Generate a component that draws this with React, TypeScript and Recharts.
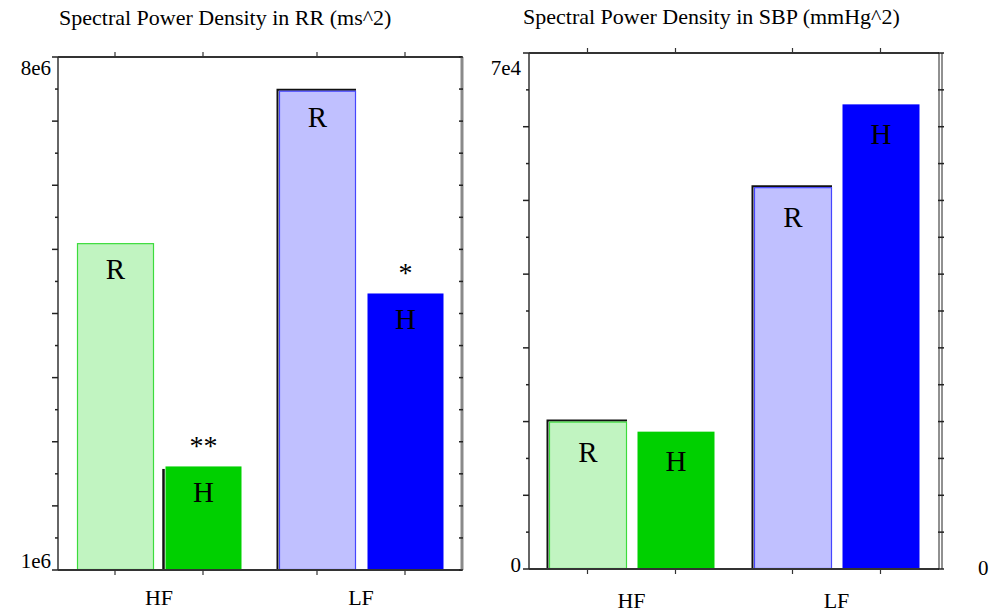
import React from "react";
import { BarChart, Bar, XAxis, YAxis, Cell, LabelList } from "recharts";

// ---- data ----
const bands = ["HF", "LF"];
const seriesLetters = ["R", "H"];

const rrRest = [5.46e6, 7.54e6];
const rrHandgrip = [2.42e6, 4.78e6];
const rrSignificance = ["**", "*"];

const sbpRest = [2.0e4, 5.18e4];
const sbpHandgrip = [1.87e4, 6.31e4];
const sbpSignificance = ["", ""];

const rrDomain = [1e6, 8e6];
const rrTickValues = [
  1e6, 1.4375e6, 1.875e6, 2.3125e6, 2.75e6, 3.1875e6, 3.625e6, 4.0625e6, 4.5e6,
  4.9375e6, 5.375e6, 5.8125e6, 6.25e6, 6.6875e6, 7.125e6, 7.5625e6, 8e6,
];
const rrTickLabels: Record<string, string> = { "1000000": "1e6", "8000000": "8e6" };

const sbpDomain = [0, 7e4];
const sbpTickValues = [
  0, 5000, 10000, 15000, 20000, 25000, 30000, 35000, 40000, 45000, 50000, 55000,
  60000, 65000, 70000,
];
const sbpTickLabels: Record<string, string> = { "0": "0", "70000": "7e4" };

const rrTitle = "Spectral Power Density in RR (ms^2)";
const sbpTitle = "Spectral Power Density in SBP (mmHg^2)";

// ---- styles ----
const serif = "'Liberation Serif', 'Times New Roman', serif";
const restFill = ["#c1f4c1", "#c0c0ff"];
const restStroke = ["#3cdc3c", "#4646ff"];
const handFill = ["#00d000", "#0000ff"];

const buildData = (rest: number[], hand: number[], sig: string[]) =>
  bands.map((b, i) => ({ band: b, rest: rest[i], handgrip: hand[i], sig: sig[i] }));

const rrData = buildData(rrRest, rrHandgrip, rrSignificance);
const sbpData = buildData(sbpRest, sbpHandgrip, sbpSignificance);

function BandTick(props: any) {
  const { x, y, payload, off, side, labelDy } = props;
  const dir = side === "bottom" ? 1 : -1;
  return (
    <g>
      <line x1={x - off} x2={x - off} y1={y} y2={y + 5 * dir} stroke="#333" strokeWidth={1.2} />
      <line x1={x + off} x2={x + off} y1={y} y2={y + 5 * dir} stroke="#333" strokeWidth={1.2} />
      {side === "bottom" && (
        <text x={x} y={y + labelDy} textAnchor="middle" fontSize={22} fontFamily={serif} fill="#000">
          {payload.value}
        </text>
      )}
    </g>
  );
}

function LeftTick(props: any) {
  const { x, y, payload, index, labels, topDy, bottomDy, gap } = props;
  const long = index % 2 === 0;
  const label = labels[String(payload.value)];
  const isBottom = index === 0;
  return (
    <g>
      <line x1={x - (long ? 6 : 3)} x2={x} y1={y} y2={y} stroke="#222" strokeWidth={1.5} />
      {label && (
        <text
          x={x - gap}
          y={y + (isBottom ? bottomDy : topDy)}
          textAnchor="end"
          fontSize={21}
          fontFamily={serif}
          fill="#000"
        >
          {label}
        </text>
      )}
    </g>
  );
}

function RightTick(props: any) {
  const { x, y, from, to } = props;
  return <line x1={x + from} x2={x + to} y1={y} y2={y} stroke="#222" strokeWidth={1.5} />;
}

// shadow modes: "" none, "l" left edge, "lt" left + top edge
function makeShape(shadows: string[]) {
  return (props: any) => {
    const { x, y, width, height, fill, stroke, index } = props;
    if (!width || height == null) return <g />;
    const sh = shadows[index];
    return (
      <g>
        {sh === "lt" && (
          <path
            d={`M${x - 1.5},${y + height} V${y - 1} H${x + width}`}
            stroke="#111"
            strokeWidth={2}
            fill="none"
          />
        )}
        {sh === "l" && (
          <path
            d={`M${x - 1.5},${y + height} V${y + 3}`}
            stroke="#111"
            strokeWidth={2.5}
            fill="none"
          />
        )}
        <rect
          x={x + 0.5}
          y={y + 0.5}
          width={Math.max(0, width - 1)}
          height={Math.max(0, height - 1)}
          fill={fill}
          stroke={stroke || "none"}
          strokeWidth={stroke ? 1.2 : 0}
        />
      </g>
    );
  };
}

function letterLabel(letter: string, dy: number) {
  return (p: any) => {
    const { x, y, width } = p;
    return (
      <text x={x + width / 2} y={y + dy} textAnchor="middle" fontSize={29} fontFamily={serif} fill="#000">
        {letter}
      </text>
    );
  };
}

function sigLabel(dy: number) {
  return (p: any) => {
    const { x, y, width, value } = p;
    if (!value) return <g />;
    return (
      <text x={x + width / 2} y={y + dy} textAnchor="middle" fontSize={28} fontFamily={serif} fill="#000">
        {value}
      </text>
    );
  };
}

type PanelProps = {
  data: any[];
  width: number;
  height: number;
  domain: number[];
  ticks: number[];
  labels: Record<string, string>;
  leftW: number;
  top: number;
  bottomH: number;
  rightKind: "gray" | "double";
  rightW: number;
  catGap: number;
  barGap: number;
  tickOff: number;
  bandLabelDy: number;
  letterDy: number;
  topDy: number;
  bottomDy: number;
  labelGap: number;
  restShadow: string[];
  handShadow: string[];
};

function Panel(p: PanelProps) {
  return (
    <BarChart
      width={p.width}
      height={p.height}
      data={p.data}
      margin={{ top: p.top - 1, right: 0, bottom: 0, left: 0 }}
      barCategoryGap={p.catGap}
      barGap={p.barGap}
    >
      <XAxis
        xAxisId="b"
        dataKey="band"
        height={p.bottomH}
        tickSize={0}
        tickMargin={0}
        tickLine={false}
        axisLine={{ stroke: "#333", strokeWidth: 2 }}
        tick={<BandTick off={p.tickOff} side="bottom" labelDy={p.bandLabelDy} />}
        interval={0}
      />
      <XAxis
        xAxisId="t"
        orientation="top"
        dataKey="band"
        height={1}
        tickSize={0}
        tickMargin={0}
        tickLine={false}
        axisLine={{ stroke: "#333", strokeWidth: 2 }}
        tick={<BandTick off={p.tickOff} side="top" labelDy={0} />}
        interval={0}
      />
      <YAxis
        yAxisId="l"
        width={p.leftW}
        domain={p.domain}
        ticks={p.ticks}
        type="number"
        allowDataOverflow
        interval={0}
        tickSize={0}
        tickMargin={0}
        tickLine={false}
        axisLine={{ stroke: "#333", strokeWidth: 1.5 }}
        tick={
          <LeftTick
            labels={p.labels}
            topDy={p.topDy}
            bottomDy={p.bottomDy}
            gap={p.labelGap}
          />
        }
      />
      {p.rightKind === "gray" ? (
        <YAxis
          yAxisId="r"
          orientation="right"
          width={p.rightW}
          domain={p.domain}
          ticks={p.ticks}
          type="number"
          allowDataOverflow
          interval={0}
          tickSize={0}
          tickMargin={0}
          tickLine={false}
          axisLine={{ stroke: "#8a8a8a", strokeWidth: 3 }}
          tick={<RightTick from={-3} to={1} />}
        />
      ) : null}
      {p.rightKind === "double" ? (
        <YAxis
          yAxisId="r"
          orientation="right"
          width={3}
          domain={p.domain}
          ticks={p.ticks}
          type="number"
          allowDataOverflow
          interval={0}
          tickSize={0}
          tickMargin={0}
          tickLine={false}
          axisLine={{ stroke: "#222", strokeWidth: 1 }}
          tick={<RightTick from={-1} to={5} />}
        />
      ) : null}
      {p.rightKind === "double" ? (
        <YAxis
          yAxisId="r2"
          orientation="right"
          width={p.rightW - 3}
          domain={p.domain}
          ticks={[]}
          type="number"
          allowDataOverflow
          tick={false}
          tickLine={false}
          axisLine={{ stroke: "#222", strokeWidth: 1 }}
        />
      ) : null}
      <Bar
        xAxisId="b"
        yAxisId="l"
        dataKey="rest"
        isAnimationActive={false}
        shape={makeShape(p.restShadow)}
      >
        {p.data.map((_, i) => (
          <Cell key={i} fill={restFill[i]} stroke={restStroke[i]} />
        ))}
        <LabelList dataKey="band" content={letterLabel(seriesLetters[0], p.letterDy)} />
      </Bar>
      <Bar
        xAxisId="b"
        yAxisId="l"
        dataKey="handgrip"
        isAnimationActive={false}
        shape={makeShape(p.handShadow)}
      >
        {p.data.map((_, i) => (
          <Cell key={i} fill={handFill[i]} />
        ))}
        <LabelList dataKey="band" content={letterLabel(seriesLetters[1], p.letterDy)} />
        <LabelList dataKey="sig" content={sigLabel(-11)} />
      </Bar>
    </BarChart>
  );
}

export default function App() {
  return (
    <div style={{ position: "absolute", left: 0, top: 0, width: 991, height: 615, background: "#fff" }}>
      <div style={{ position: "absolute", left: 0, top: 0 }}>
        <Panel
          data={rrData}
          width={480}
          height={615}
          domain={rrDomain}
          ticks={rrTickValues}
          labels={rrTickLabels}
          leftW={58}
          top={57}
          bottomH={45}
          rightKind="gray"
          rightW={18}
          catGap={19}
          barGap={11}
          tickOff={44}
          bandLabelDy={35}
          letterDy={36}
          topDy={18}
          bottomDy={-2}
          labelGap={7}
          restShadow={["", "lt"]}
          handShadow={["l", ""]}
        />
      </div>
      <div style={{ position: "absolute", left: 480, top: 0 }}>
        <Panel
          data={sbpData}
          width={511}
          height={615}
          domain={sbpDomain}
          ticks={sbpTickValues}
          labels={sbpTickLabels}
          leftW={49}
          top={53}
          bottomH={46}
          rightKind="double"
          rightW={52}
          catGap={20}
          barGap={10}
          tickOff={44}
          bandLabelDy={39}
          letterDy={40}
          topDy={22}
          bottomDy={3}
          labelGap={8}
          restShadow={["lt", "lt"]}
          handShadow={["", ""]}
        />
      </div>
      <svg
        width={991}
        height={615}
        style={{ position: "absolute", left: 0, top: 0, pointerEvents: "none" }}
      >
        <text x={59} y={25} fontSize={22} fontFamily={serif} fill="#000">
          {rrTitle}
        </text>
        <text x={523} y={24} fontSize={22} fontFamily={serif} fill="#000">
          {sbpTitle}
        </text>
        <text x={978} y={575} fontSize={21} fontFamily={serif} fill="#000">
          0
        </text>
      </svg>
    </div>
  );
}
